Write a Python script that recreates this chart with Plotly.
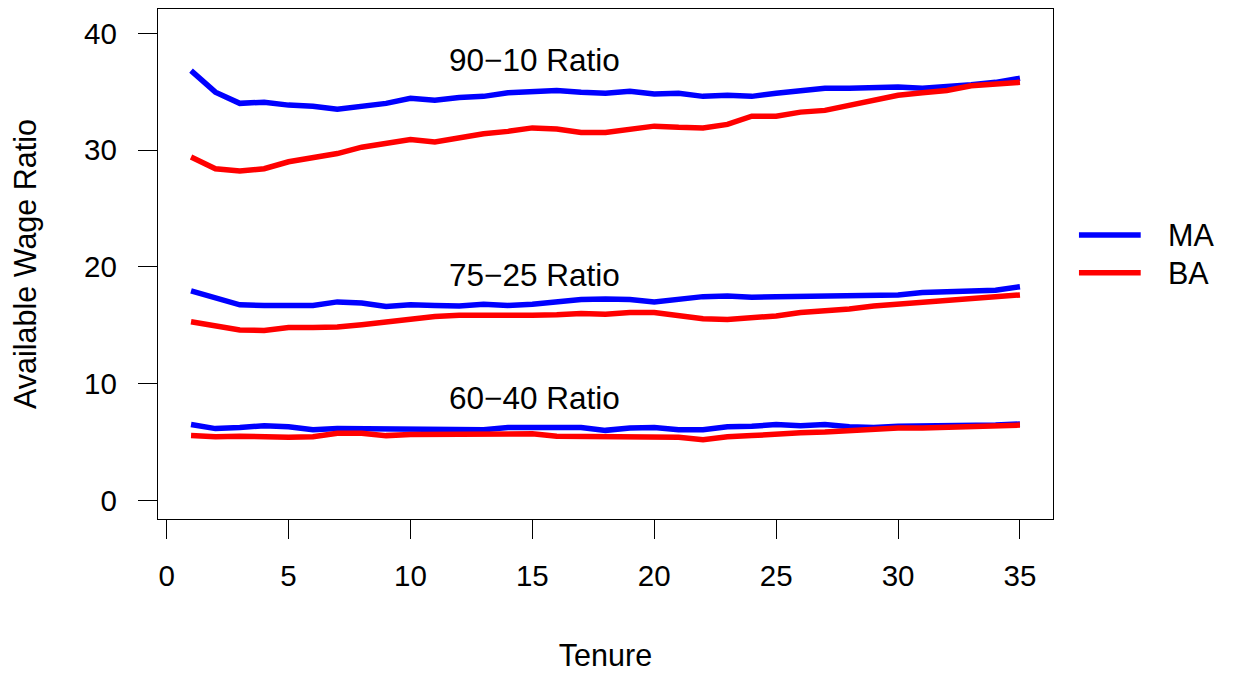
import plotly.graph_objects as go

tenure = list(range(1, 36))

ma_90_10 = [36.8, 34.96, 34.0, 34.1, 33.85, 33.76, 33.5, 33.76, 34.0, 34.44,
            34.27, 34.5, 34.6, 34.9, 35.0, 35.1, 34.96, 34.87, 35.04, 34.8,
            34.87, 34.6, 34.7, 34.6, 34.87, 35.04, 35.3, 35.3, 35.4, 35.4,
            35.3, 35.4, 35.6, 35.8, 36.15]
ba_90_10 = [29.4, 28.4, 28.2, 28.4, 29.0, 29.4, 29.7, 30.25, 30.6, 30.9,
            30.7, 31.1, 31.4, 31.6, 31.9, 31.8, 31.5, 31.5, 31.8, 32.05,
            31.95, 31.9, 32.2, 32.9, 32.9, 33.25, 33.4, 33.8, 34.2, 34.7,
            34.9, 35.1, 35.5, 35.6, 35.8]
ma_75_25 = [17.95, 17.35, 16.75, 16.7, 16.75, 16.7, 17.0, 16.9, 16.6, 16.75,
            16.7, 16.65, 16.8, 16.7, 16.8, 17.0, 17.2, 17.25, 17.2, 17.0,
            17.25, 17.45, 17.5, 17.4, 17.45, 17.5, 17.55, 17.5, 17.55, 17.6,
            17.8, 17.85, 17.9, 18.0, 18.3]
ba_75_25 = [15.3, 14.9, 14.6, 14.55, 14.8, 14.8, 14.85, 15.05, 15.3, 15.5,
            15.75, 15.85, 15.85, 15.75, 15.85, 15.9, 16.0, 15.95, 16.1, 16.1,
            15.8, 15.55, 15.5, 15.6, 15.8, 16.1, 16.2, 16.4, 16.65, 16.8,
            17.0, 17.15, 17.3, 17.45, 17.6]
ma_60_40 = [6.5, 6.15, 6.25, 6.4, 6.3, 6.05, 6.15, 6.15, 6.05, 6.05,
            6.05, 6.1, 6.05, 6.25, 6.25, 6.25, 6.25, 6.0, 6.2, 6.25,
            6.05, 6.05, 6.3, 6.35, 6.5, 6.4, 6.5, 6.3, 6.25, 6.35,
            6.35, 6.35, 6.4, 6.45, 6.55]
ba_60_40 = [5.55, 5.45, 5.5, 5.4, 5.4, 5.45, 5.75, 5.75, 5.55, 5.65,
            5.65, 5.7, 5.65, 5.7, 5.7, 5.5, 5.5, 5.45, 5.45, 5.45,
            5.4, 5.2, 5.45, 5.55, 5.7, 5.8, 5.85, 6.0, 6.1, 6.2,
            6.2, 6.25, 6.35, 6.4, 6.45]

ratio_labels = ["90\u221210 Ratio", "75\u221225 Ratio", "60\u221240 Ratio"]
label_x = [15.1, 15.1, 15.1]
label_y = [37.7, 19.3, 8.8]

series_names = ["MA", "BA"]
series_colors = ["#0000FF", "#FF0000"]

x_ticks = [0, 5, 10, 15, 20, 25, 30, 35]
y_ticks = [0, 10, 20, 30, 40]

FONT = "Liberation Sans, Arial, Helvetica, sans-serif"
LW = 5.5
TICK_FS = 29.5
TITLE_FS = 30.5
LABEL_FS = 31.5

fig = go.Figure()
ma_sets = [ma_90_10, ma_75_25, ma_60_40]
ba_sets = [ba_90_10, ba_75_25, ba_60_40]
for ys in ma_sets:
    fig.add_trace(go.Scatter(x=tenure, y=ys, mode="lines",
                             line=dict(color=series_colors[0], width=LW),
                             showlegend=False))
for ys in ba_sets:
    fig.add_trace(go.Scatter(x=tenure, y=ys, mode="lines",
                             line=dict(color=series_colors[1], width=LW),
                             showlegend=False))

for txt, lx, ly in zip(ratio_labels, label_x, label_y):
    fig.add_annotation(x=lx, y=ly, xref="x", yref="y", text=txt,
                       showarrow=False, xanchor="center", yanchor="middle",
                       font=dict(family=FONT, size=LABEL_FS, color="black"))

# manual legend (R-style)
leg_y = [0.557, 0.4827]
for name, col, ly in zip(series_names, series_colors, leg_y):
    fig.add_shape(type="line", xref="paper", yref="paper",
                  x0=1.029, x1=1.098, y0=ly, y1=ly,
                  line=dict(color=col, width=LW))
    fig.add_annotation(x=1.1265, y=ly, xref="paper", yref="paper", text=name,
                       showarrow=False, xanchor="left", yanchor="middle",
                       font=dict(family=FONT, size=TITLE_FS, color="black"))

axis_common = dict(showline=True, mirror=True, linecolor="black", linewidth=1.3,
                   ticks="outside", ticklen=19, tickwidth=1.3, tickcolor="black",
                   showgrid=False, zeroline=False, automargin=False,
                   tickfont=dict(family=FONT, size=TICK_FS, color="black"))

fig.update_layout(
    width=1234, height=675,
    paper_bgcolor="white", plot_bgcolor="white",
    margin=dict(l=158, r=181, t=9, b=156),
    showlegend=False,
    font=dict(family=FONT, size=TITLE_FS, color="black"),
    xaxis=dict(range=[-0.355, 36.355], tickvals=x_ticks,
               ticktext=[str(v) for v in x_ticks],
               title=dict(text="Tenure", standoff=54,
                          font=dict(family=FONT, size=TITLE_FS, color="black")),
               ticklabelstandoff=11,
               **axis_common),
    yaxis=dict(range=[-1.59, 42.08], tickvals=y_ticks,
               ticktext=[str(v) for v in y_ticks],
               title=dict(text="Available Wage Ratio", standoff=38,
                          font=dict(family=FONT, size=TITLE_FS, color="black")),
               ticklabelstandoff=15,
               **axis_common),
)

fig.write_html("out.html", config={"displayModeBar": False},
               post_script="document.body.style.margin='0px';")
